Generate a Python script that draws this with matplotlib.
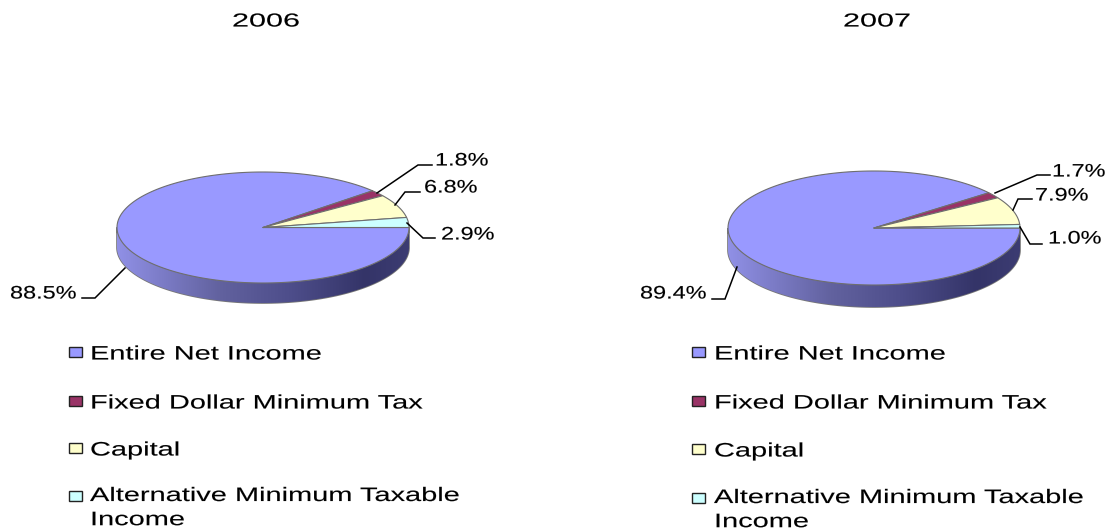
import numpy as np
import matplotlib
matplotlib.use("Agg")
import matplotlib.pyplot as plt
from matplotlib.patches import Polygon, Rectangle
from matplotlib.patheffects import AbstractPathEffect
from matplotlib.transforms import Affine2D
from matplotlib.colors import LinearSegmentedColormap

categories = ["Entire Net Income", "Fixed Dollar Minimum Tax", "Capital",
              "Alternative Minimum Taxable\nIncome"]
years = ["2006", "2007"]
values_2006 = [88.5, 1.8, 6.8, 2.9]
values_2007 = [89.4, 1.7, 7.9, 1.0]
colors = ["#9999FF", "#993366", "#FFFFCC", "#CCFFFF"]


class Stretch(AbstractPathEffect):
    """Widens the glyphs of a real text object, as in the reference."""
    def __init__(self, sx):
        super().__init__()
        self.sx = sx

    def draw_path(self, renderer, gc, tpath, affine, rgbFace=None):
        gc0 = renderer.new_gc()
        gc0.copy_properties(gc)
        gc0.set_linewidth(0.1)
        gc0.set_foreground("black")
        renderer.draw_path(gc0, tpath, Affine2D().scale(self.sx, 1) + affine, rgbFace)
        gc0.restore()


plt.rcParams["font.family"] = ["Liberation Sans", "DejaVu Sans"]
fig = plt.figure(figsize=(11.07, 5.31), dpi=100)
ax = fig.add_axes([0, 0, 1, 1])
side_cmap = LinearSegmentedColormap.from_list(
    "side", [(0, "#9090E6"), (0.35, "#62629F"), (0.6, "#4D4D8A"),
             (0.85, "#343468"), (1, "#3C3C72")])


def pie(values, cx, cy, rx, ry, depth):
    t = np.radians(np.linspace(0, 180, 200))
    xs, ys = cx + rx * np.cos(t), cy + ry * np.sin(t)
    band = np.column_stack([np.r_[xs, xs[::-1]], np.r_[ys, ys[::-1] + depth]])
    shadow = Polygon(band, closed=True, facecolor="none", edgecolor="#777777",
                     lw=1.2, zorder=2)
    ax.add_patch(shadow)
    im = ax.imshow(np.linspace(0, 1, 256)[None, :], cmap=side_cmap, aspect="auto",
                   extent=(cx - rx, cx + rx, cy + ry + depth, cy - ry), zorder=2)
    im.set_clip_path(shadow)
    bounds = np.r_[0, np.cumsum(values)] / np.sum(values) * 360
    for start, end, color in zip(bounds[:-1], bounds[1:], colors):
        a = np.radians(np.linspace(start, end, max(int(end - start) * 2, 8)))
        pts = np.column_stack([np.r_[cx, cx + rx * np.cos(a)],
                               np.r_[cy, cy + ry * np.sin(a)]])
        ax.add_patch(Polygon(pts, closed=True, facecolor=color, edgecolor="#6E6E6E",
                             lw=0.8, zorder=3, joinstyle="round"))


def leader(points):
    x, y = zip(*points)
    ax.plot(x, y, color="black", lw=1.1, zorder=4, solid_joinstyle="miter")


def label(x, y, s, size=13, sx=1.3, **kw):
    ax.text(x, y, s, fontsize=size, color="black", va="center", ha="left",
            path_effects=[Stretch(sx)], zorder=5, **kw)


# --- 2006 ---
pie(values_2006, 263, 227.5, 146, 55.5, 20)
label(232, 22, years[0], size=13.5, sx=1.63)
for v, p, (lx, ly) in zip(values_2006,
                          [[(125, 268), (95, 298), (82, 298)],
                           [(377, 193), (418, 165), (432, 165)],
                           [(395, 205), (405, 192), (420, 192)],
                           [(407, 223), (423, 238), (435, 238)]],
                          [(10, 294), (435, 161), (424, 188), (441, 235)]):
    leader(p)
    label(lx, ly, f"{v:.1f}%")

# --- 2007 ---
pie(values_2007, 874, 228, 146, 57, 22)
label(843, 22, years[1], size=13.5, sx=1.63)
for v, p, (lx, ly) in zip(values_2007,
                          [[(737, 267), (725, 299), (712, 299)],
                           [(995, 193), (1037, 175), (1050, 175)],
                           [(1013, 210), (1018, 199), (1032, 199)],
                           [(1020, 227), (1030, 244), (1042, 244)]],
                          [(640, 294), (1052, 172), (1035, 196), (1048, 239)]):
    leader(p)
    label(lx, ly, f"{v:.1f}%")


def legend(mx, tx, rows):
    for cat, col, y in zip(categories, colors, rows):
        ax.add_patch(Rectangle((mx, y - 5), 13, 10, facecolor=col, edgecolor="#222222",
                               lw=1.0, zorder=4))
        if "\n" in cat:
            ax.text(tx, y - 8, cat, fontsize=14, color="black", va="top", ha="left",
                    linespacing=1.55, path_effects=[Stretch(1.49)], zorder=5)
        else:
            label(tx, y + 3, cat, size=14, sx=1.49)


legend(68.5, 90, [352, 401, 448, 496])
legend(692, 714, [352, 401, 449, 498])

ax.set_xlim(0, 1107)
ax.set_ylim(531, 0)
ax.axis("off")
fig.savefig("out.png", dpi=100, facecolor="white")
